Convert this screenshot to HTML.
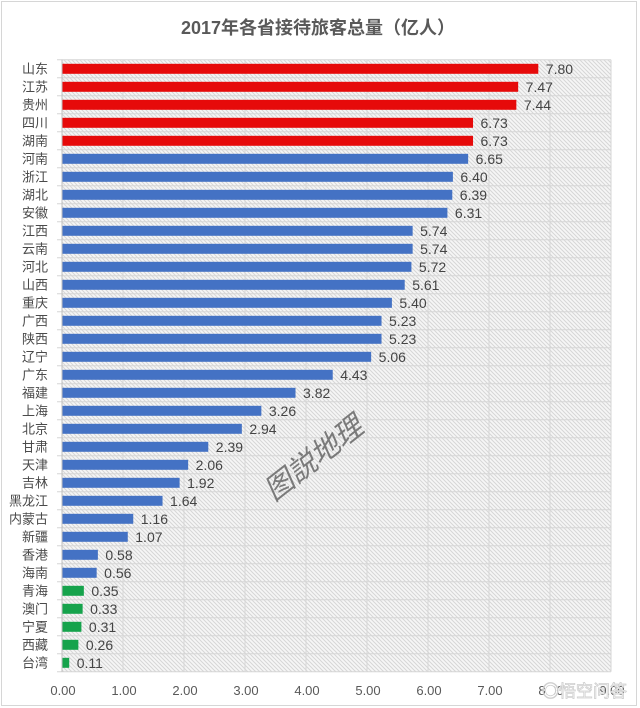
<!DOCTYPE html>
<html><head><meta charset="utf-8"><style>
html,body{margin:0;padding:0;background:#fff;}
svg{display:block;}
text{font-family:"Liberation Sans","Noto Sans CJK SC",sans-serif;}
</style></head><body>
<svg width="640" height="708" viewBox="0 0 640 708" xmlns="http://www.w3.org/2000/svg">
<defs>
<pattern id="h" width="4" height="4" patternUnits="userSpaceOnUse">
<rect width="4" height="4" fill="#f6f6f6"/>
<path d="M-1,-1 L5,5 M-1,3 L1,5 M3,-1 L5,1" stroke="#d6d6d6" stroke-width="1"/>
</pattern>
</defs>
<rect x="1.5" y="1.5" width="635" height="704" fill="#fff" stroke="#d6d6d6"/>
<text x="318" y="34" font-size="18" font-weight="bold" fill="#595959" text-anchor="middle">2017年各省接待旅客总量（亿人）</text>
<rect x="62" y="59.8" width="549" height="612" fill="url(#h)"/>
<g id="grid" stroke="#d6d6d6" stroke-width="1"></g>
<g id="bars"></g>
<g id="labels" font-size="13" fill="#4a4a4a"></g>
<g id="vals" font-size="14" fill="#444"></g>
<g id="ticks" font-size="13" fill="#595959" text-anchor="middle"></g>
<text x="0" y="0" font-size="29" fill="#7a7a7a" font-style="italic" font-family="'Noto Serif CJK SC','Noto Sans CJK SC',serif" transform="translate(274,502) rotate(-38)">图説地理</text>
<text x="542" y="697" font-size="17" fill="#ffffff" stroke="#cfcfcf" stroke-width="0.8" font-family="'Noto Sans CJK SC',sans-serif">◉悟空问答</text>
</svg>
<script>
(function(){
var data=[["山东",7.80,"r"],["江苏",7.47,"r"],["贵州",7.44,"r"],["四川",6.73,"r"],["湖南",6.73,"r"],
["河南",6.65,"b"],["浙江",6.40,"b"],["湖北",6.39,"b"],["安徽",6.31,"b"],["江西",5.74,"b"],["云南",5.74,"b"],["河北",5.72,"b"],["山西",5.61,"b"],["重庆",5.40,"b"],["广西",5.23,"b"],["陕西",5.23,"b"],["辽宁",5.06,"b"],["广东",4.43,"b"],["福建",3.82,"b"],["上海",3.26,"b"],["北京",2.94,"b"],["甘肃",2.39,"b"],["天津",2.06,"b"],["吉林",1.92,"b"],["黑龙江",1.64,"b"],["内蒙古",1.16,"b"],["新疆",1.07,"b"],["香港",0.58,"b"],["海南",0.56,"b"],
["青海",0.35,"g"],["澳门",0.33,"g"],["宁夏",0.31,"g"],["西藏",0.26,"g"],["台湾",0.11,"g"]];
var col={r:"#e60a0a",b:"#4472c4",g:"#16a34c"};
var NS="http://www.w3.org/2000/svg";
function el(t,a,p,txt){var e=document.createElementNS(NS,t);for(var k in a)e.setAttribute(k,a[k]);if(txt!=null)e.textContent=txt;document.getElementById(p).appendChild(e);return e;}
var x0=62,u=61,T=59.8,pitch=18;
for(var i=0;i<=34;i++){var y=T+i*pitch;el("line",{x1:57,x2:611,y1:y,y2:y},"grid");}
for(var k=1;k<=9;k++){var x=x0+k*u;el("line",{x1:x,x2:x,y1:T,y2:T+34*pitch},"grid");}
el("line",{x1:x0,x2:x0,y1:T,y2:T+34*pitch,stroke:"#bfbfbf"},"grid");
data.forEach(function(d,i){
 var c=T+i*pitch+9;
 var w=d[1]*u;
 el("rect",{x:x0+0.5,y:c-5,width:w,height:10,fill:col[d[2]]},"bars");
 el("text",{x:48,y:c+4.5,"text-anchor":"end"},"labels",d[0]);
 el("text",{x:x0+w+8,y:c+5},"vals",d[1].toFixed(2));
});
for(var k=0;k<=9;k++){el("text",{x:x0+k*u+1,y:695},"ticks",k.toFixed(2));}
})();
</script>
</body></html>
